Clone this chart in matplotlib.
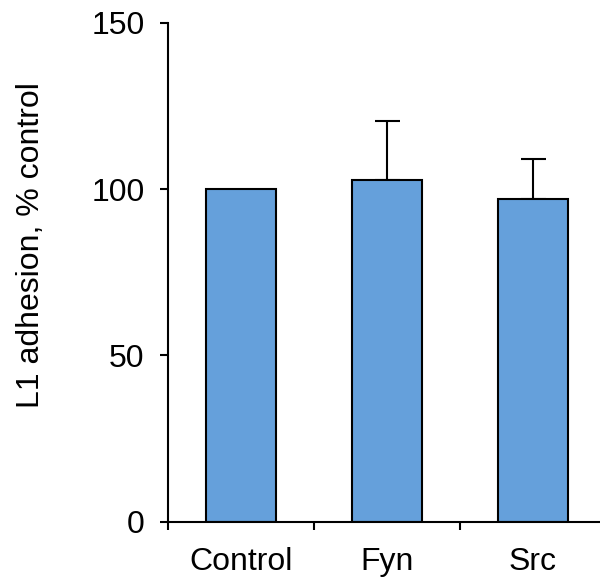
import matplotlib.pyplot as plt

categories = ['Control', 'Fyn', 'Src']
adhesion = [100, 102.7, 97.1]
err_upper = [0, 17.7, 11.8]

plt.rcParams['font.family'] = ['Liberation Sans', 'DejaVu Sans']

fig = plt.figure(figsize=(6, 5.78), dpi=100)
ax = fig.add_axes([0.28, 0.097, 0.73, 0.864])

x = range(len(categories))
ax.bar(x, adhesion, width=0.485, color='#65a0db', edgecolor='black', linewidth=1.5,
       zorder=2)
ax.errorbar([1, 2], adhesion[1:], yerr=[[0, 0], err_upper[1:]], fmt='none',
            ecolor='black', elinewidth=1.5, capsize=9, capthick=1.5, zorder=1)

ax.set_xlim(-0.5, 2.5)
ax.set_ylim(0, 150)
ax.set_yticks([0, 50, 100, 150])
ax.set_xticks([-0.5, 0.5, 1.5, 2.5])
ax.set_xticklabels([])
ax.set_xticks(list(x), categories, minor=True)
ax.tick_params(axis='x', which='minor', length=0, pad=18, labelsize=23)
ax.tick_params(axis='x', which='major', direction='out', length=6, width=1.5)
ax.tick_params(axis='y', direction='out', length=6, width=1.5, labelsize=23, pad=11)

for side in ['top', 'right']:
    ax.spines[side].set_visible(False)
for side in ['left', 'bottom']:
    ax.spines[side].set_linewidth(1.5)

fig.text(31 / 600, 1 - 245 / 578, 'L1 adhesion, % control', fontsize=23,
         rotation=90, ha='center', va='center')

fig.savefig('out.png', dpi=100)
